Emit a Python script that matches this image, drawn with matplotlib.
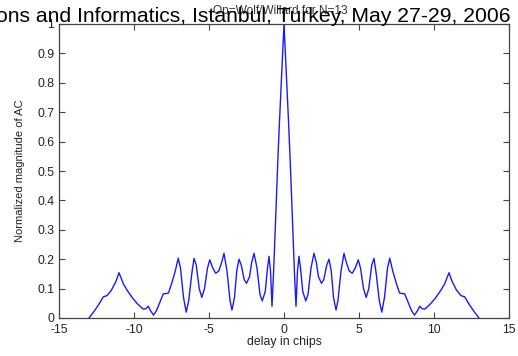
import matplotlib
matplotlib.use("Agg")
import matplotlib.pyplot as plt

plt.rcParams['font.family'] = ['Liberation Sans', 'DejaVu Sans']

# delay (chips) and normalized autocorrelation magnitude
delay = [
    -13.0, -12.6, -12.3, -12.05, -11.8, -11.5, -11.2, -11.0, -10.7, -10.4,
    -10.1, -9.8, -9.5, -9.35, -9.2, -9.05, -8.9, -8.7, -8.5, -8.3,
    -8.05, -7.9, -7.7, -7.45, -7.25, -7.05, -6.9, -6.7, -6.52, -6.35,
    -6.15, -6.0, -5.85, -5.65, -5.48, -5.3, -5.1, -4.95, -4.75, -4.55,
    -4.35, -4.15, -4.0, -3.8, -3.6, -3.47, -3.3, -3.15, -3.0, -2.85,
    -2.65, -2.5, -2.3, -2.15, -2.0, -1.8, -1.6, -1.45, -1.25, -1.1,
    -1.0, -0.9, -0.8, -0.7, -0.6, -0.5, -0.4, -0.3, -0.2, -0.1,
    0.0,
    0.1, 0.2, 0.3, 0.4, 0.5, 0.6, 0.7, 0.8, 0.9, 1.0,
    1.1, 1.25, 1.45, 1.6, 1.8, 2.0, 2.15, 2.3, 2.5, 2.65,
    2.85, 3.0, 3.15, 3.3, 3.47, 3.6, 3.8, 4.0, 4.15, 4.35,
    4.55, 4.75, 4.95, 5.1, 5.3, 5.48, 5.65, 5.85, 6.0, 6.15,
    6.35, 6.52, 6.7, 6.9, 7.05, 7.25, 7.45, 7.7, 7.9, 8.05,
    8.3, 8.5, 8.7, 8.9, 9.05, 9.2, 9.35, 9.5, 9.8, 10.1,
    10.4, 10.7, 11.0, 11.2, 11.5, 11.8, 12.05, 12.3, 12.6, 13.0,
]
magnitude = [
    0.0, 0.027, 0.05, 0.072, 0.076, 0.095, 0.125, 0.154, 0.115, 0.09,
    0.068, 0.05, 0.035, 0.03, 0.032, 0.04, 0.025, 0.01, 0.025, 0.05,
    0.082, 0.083, 0.085, 0.124, 0.16, 0.203, 0.17, 0.07, 0.02, 0.06,
    0.15, 0.203, 0.18, 0.10, 0.07, 0.10, 0.17, 0.198, 0.17, 0.152,
    0.16, 0.19, 0.22, 0.16, 0.06, 0.027, 0.07, 0.16, 0.20, 0.18,
    0.13, 0.118, 0.14, 0.19, 0.22, 0.17, 0.08, 0.058, 0.09, 0.17,
    0.21, 0.16, 0.04, 0.15, 0.28, 0.42, 0.55, 0.67, 0.78, 0.89,
    1.0,
    0.89, 0.78, 0.67, 0.55, 0.42, 0.28, 0.15, 0.04, 0.16, 0.21,
    0.17, 0.09, 0.058, 0.08, 0.17, 0.22, 0.19, 0.14, 0.118, 0.13,
    0.18, 0.20, 0.16, 0.07, 0.027, 0.06, 0.16, 0.22, 0.19, 0.16,
    0.152, 0.17, 0.198, 0.17, 0.10, 0.07, 0.10, 0.18, 0.203, 0.15,
    0.06, 0.02, 0.07, 0.17, 0.203, 0.16, 0.124, 0.085, 0.083, 0.082,
    0.05, 0.025, 0.01, 0.025, 0.04, 0.032, 0.03, 0.035, 0.05, 0.068,
    0.09, 0.115, 0.154, 0.125, 0.095, 0.076, 0.072, 0.05, 0.027, 0.0,
]

x_ticks = [-15, -10, -5, 0, 5, 10, 15]
y_ticks = [0, 0.1, 0.2, 0.3, 0.4, 0.5, 0.6, 0.7, 0.8, 0.9, 1]
y_tick_labels = ['0', '0.1', '0.2', '0.3', '0.4', '0.5', '0.6', '0.7', '0.8', '0.9', '1']

W, H = 518, 356
fig = plt.figure(figsize=(W / 100, H / 100), dpi=100)
fig.patch.set_facecolor('white')

ax = fig.add_axes([59 / W, 1 - 318 / H, 450 / W, 294 / H])
ax.plot(delay, magnitude, color='#1a1aff', linewidth=1.0)

ax.set_xlim(-15, 15)
ax.set_ylim(0, 1)
ax.set_xticks(x_ticks)
ax.set_xticklabels([str(t) for t in x_ticks])
ax.set_yticks(y_ticks)
ax.set_yticklabels(y_tick_labels)

edge = '#444444'
for s in ax.spines.values():
    s.set_color(edge)
    s.set_linewidth(0.9)
ax.tick_params(direction='in', length=4, width=0.8, colors=edge,
               labelcolor='#222222', labelsize=8.8, top=True, right=True)
ax.tick_params(axis='y', pad=3.5)
ax.tick_params(axis='x', pad=4)

ax.set_xlabel('delay in chips', fontsize=8.8, color='#222222')
ax.xaxis.set_label_coords(0.5, (318 - 336) / 294)
ax.set_ylabel('Normalized magnitude of AC', fontsize=8.0, color='#222222')
ax.yaxis.set_label_coords((25 - 59) / 450, 0.5)

# small plot title, overprinted by the page header
fig.text(280 / W, 1 - 14 / H, 'Op=Wolf/Willard for N=13', ha='center',
         va='baseline', fontsize=8.6, color='#333333')

fig.text(511 / W, 1 - 22 / H,
         'ons and Informatics, Istanbul, Turkey, May 27-29, 2006',
         ha='right', va='baseline', fontsize=15.2, color='black')

fig.savefig('out.png', dpi=100, facecolor='white')
